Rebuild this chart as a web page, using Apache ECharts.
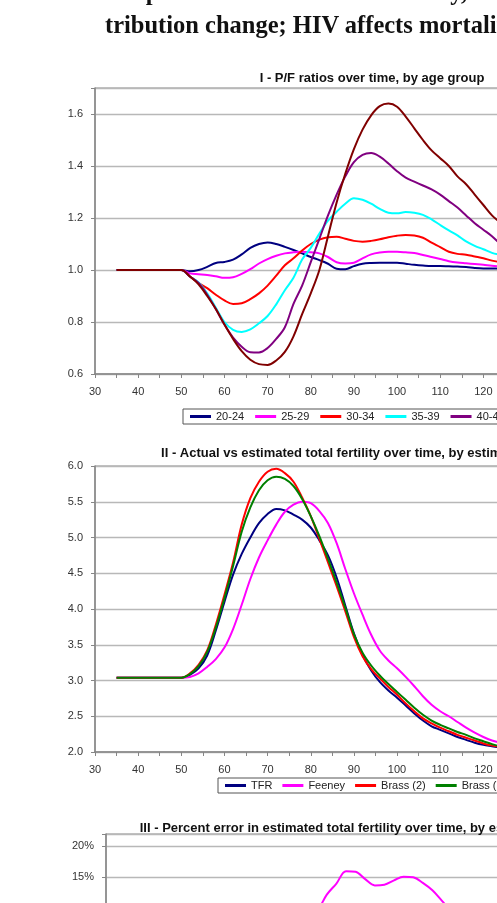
<!DOCTYPE html>
<html lang="en">
<head>
<meta charset="UTF-8">
<title>Scenario 4 output</title>
<style>
	html, body { margin: 0; padding: 0; background: #fff; overflow: hidden; width: 497px; height: 903px; }
	.hd { position: absolute; font-family: "Liberation Serif", "Times New Roman", serif; font-weight: bold;
		font-size: 24.5px; line-height: 26px; color: #111; white-space: nowrap; z-index: 2; }
	#chart { position: absolute; left: 0; top: 0; width: 744px; height: 1150px; }
</style>
</head>
<body>
<div class="hd" style="left:10px;top:-21px">6.</div>
<div class="hd" style="left:105px;top:-21px">Output from scenario 4- mortality, fertility and age dis-</div>
<div class="hd" style="left:105px;top:12px">tribution change; HIV affects mortality</div>
<div id="chart"></div>
<script src="https://cdn.jsdelivr.net/npm/echarts@6/dist/echarts.min.js"></script>
<script>
	// years shared by every chart
	var years = [35, 40, 45, 50,
		52, 54, 56, 58, 60, 62, 64, 66, 68, 70, 72, 74, 76, 78, 80, 82, 84, 86, 88, 90,
		92, 94, 96, 98, 100, 102, 104, 106, 108, 110, 112, 114, 116, 118, 120, 122, 124, 126, 128, 130];

	// I - P/F ratios by age group
	var ageGroups = ['20-24', '25-29', '30-34', '35-39', '40-44', '45-49'];
	var pf2024 = [1.0, 1.0, 1.0, 1.0,
		0.995, 1.0, 1.012, 1.027, 1.031, 1.04, 1.06, 1.085, 1.10, 1.106,
		1.10, 1.089, 1.077, 1.064, 1.05, 1.038, 1.024, 1.005, 1.003, 1.015,
		1.024, 1.027, 1.028, 1.028, 1.028, 1.024, 1.02, 1.017, 1.015, 1.015,
		1.014, 1.013, 1.012, 1.008, 1.006, 1.006, 1.005, 1.005, 1.004, 1.004];
	var pf2529 = [1.0, 1.0, 1.0, 1.0,
		0.987, 0.984, 0.981, 0.976, 0.97, 0.972, 0.985, 1.003, 1.025, 1.042,
		1.055, 1.064, 1.068, 1.07, 1.068, 1.064, 1.05, 1.03, 1.025, 1.028,
		1.045, 1.06, 1.067, 1.07, 1.07, 1.068, 1.065, 1.058, 1.05, 1.042,
		1.034, 1.029, 1.026, 1.023, 1.02, 1.016, 1.014, 1.012, 1.011, 1.01];
	var pf3034 = [1.0, 1.0, 1.0, 1.0,
		0.975, 0.95, 0.93, 0.905, 0.883, 0.869, 0.872, 0.888, 0.91, 0.94,
		0.978, 1.018, 1.045, 1.075, 1.10, 1.117, 1.126, 1.128, 1.12, 1.112,
		1.109, 1.112, 1.118, 1.126, 1.132, 1.135, 1.133, 1.124, 1.105, 1.088,
		1.07, 1.062, 1.059, 1.052, 1.045, 1.036, 1.03, 1.026, 1.022, 1.019];
	var pf3539 = [1.0, 1.0, 1.0, 1.0,
		0.975, 0.952, 0.91, 0.855, 0.80, 0.77, 0.762, 0.772, 0.795, 0.823,
		0.868, 0.922, 0.97, 1.04, 1.085, 1.14, 1.19, 1.224, 1.255, 1.276,
		1.27, 1.255, 1.235, 1.22, 1.218, 1.223, 1.22, 1.212, 1.195, 1.173,
		1.152, 1.133, 1.11, 1.093, 1.08, 1.066, 1.058, 1.05, 1.045, 1.04];
	var pf4044 = [1.0, 1.0, 1.0, 1.0,
		0.975, 0.95, 0.905, 0.85, 0.79, 0.74, 0.705, 0.684, 0.683, 0.70,
		0.735, 0.78, 0.87, 0.94, 1.03, 1.12, 1.21, 1.29, 1.36, 1.415,
		1.443, 1.45, 1.436, 1.41, 1.38, 1.355, 1.34, 1.325, 1.31, 1.29,
		1.265, 1.24, 1.21, 1.18, 1.155, 1.13, 1.10, 1.08, 1.065, 1.05];
	var pf4549 = [1.0, 1.0, 1.0, 1.0,
		0.975, 0.945, 0.90, 0.85, 0.79, 0.735, 0.688, 0.655, 0.638, 0.635,
		0.652, 0.685, 0.745, 0.83, 0.91, 1.0, 1.13, 1.26, 1.37, 1.465,
		1.54, 1.595, 1.63, 1.64, 1.628, 1.59, 1.545, 1.50, 1.46, 1.43,
		1.40, 1.36, 1.33, 1.29, 1.25, 1.21, 1.18, 1.14, 1.10, 1.07];

	// II - total fertility, actual and estimated
	var methods = ['TFR', 'Feeney', 'Brass (2)', 'Brass (3)'];
	var tfr = [3.04, 3.04, 3.04, 3.04,
		3.08, 3.17, 3.35, 3.70, 4.10, 4.48, 4.77, 5.0, 5.2, 5.33,
		5.40, 5.38, 5.32, 5.25, 5.14, 4.96, 4.75, 4.44, 4.05, 3.66,
		3.36, 3.14, 2.98, 2.86, 2.76, 2.65, 2.54, 2.44, 2.36, 2.31,
		2.26, 2.21, 2.17, 2.13, 2.10, 2.08, 2.06, 2.05, 2.04, 2.03];
	var feeney = [3.04, 3.04, 3.04, 3.04,
		3.05, 3.10, 3.19, 3.30, 3.46, 3.72, 4.06, 4.42, 4.72, 4.96,
		5.18, 5.36, 5.46, 5.50, 5.48, 5.37, 5.20, 4.92, 4.56, 4.22,
		3.92, 3.64, 3.42, 3.28, 3.17, 3.05, 2.92, 2.78, 2.66, 2.57,
		2.50, 2.42, 2.34, 2.27, 2.21, 2.16, 2.13, 2.11, 2.09, 2.07];
	var brass2 = [3.04, 3.04, 3.04, 3.04,
		3.10, 3.22, 3.42, 3.78, 4.20, 4.65, 5.18, 5.55, 5.78, 5.92,
		5.96, 5.90, 5.78, 5.56, 5.30, 4.98, 4.65, 4.32, 3.97, 3.61,
		3.34, 3.16, 3.03, 2.91, 2.80, 2.68, 2.57, 2.47, 2.40, 2.34,
		2.29, 2.24, 2.20, 2.16, 2.12, 2.09, 2.07, 2.06, 2.05, 2.04];
	var brass3 = [3.04, 3.04, 3.04, 3.04,
		3.09, 3.20, 3.40, 3.74, 4.15, 4.60, 5.08, 5.42, 5.66, 5.80,
		5.85, 5.82, 5.72, 5.54, 5.30, 5.02, 4.70, 4.37, 4.02, 3.65,
		3.39, 3.21, 3.07, 2.95, 2.84, 2.73, 2.62, 2.52, 2.44, 2.38,
		2.33, 2.28, 2.24, 2.19, 2.15, 2.11, 2.08, 2.06, 2.05, 2.04];

	// III - percent error of the estimates
	var errFeeney = [0, 0, 0, 0,
		-1, -2.5, -5, -10, -15, -17, -14, -11, -8.5, -6.5,
		-4, -0.5, 2.5, 4.5, 6.5, 8, 9.5, 12.2, 14, 16,
		15.9, 14.7, 13.7, 13.8, 14.5, 15.1, 15, 14.1, 12.9, 11.2,
		9.5, 8.5, 7.5, 6.5, 5.3, 4, 3.4, 3, 2.5, 2];
	var errBrass2 = [0, 0, 0, 0,
		0.5, 1.5, 2, 2.5, 3.5, 5, 8, 10, 10, 9.5,
		9.5, 9, 8.5, 6, 3, 0.5, -2, -4, -3, 0,
		0, 0.6, 1.5, 1.5, 1.2, 0.8, 0.8, 1.2, 1.3, 1.3,
		1.3, 1.3, 1.3, 1.3, 1, 0.5, 0.5, 0.5, 0.5, 0.5];
	var errBrass3 = [0, 0, 0, 0,
		0.3, 1, 1.5, 1.8, 2.5, 3.5, 6.5, 8.5, 8.8, 8.8,
		8.3, 8.2, 7.5, 5.5, 3, 1.2, -1, -3, -2, 1.4,
		1.8, 2.2, 3, 2.8, 2.5, 2.6, 2.8, 3.2, 3, 2.6,
		2.5, 2.4, 2.4, 2.3, 2.2, 1.8, 1.5, 1.2, 1, 1];

	var font = '"Liberation Sans", Arial, sans-serif';
	var axisGray = '#868686';

	function xAxis(gridIndex, min) {
		return {
			type: 'value', gridIndex: gridIndex, min: min, max: 150, interval: 10,
			axisLine: { onZero: false, lineStyle: { color: axisGray, width: 1.5 } },
			axisTick: { length: 4, lineStyle: { color: axisGray } },
			minorTick: { show: true, splitNumber: 2, length: 4, lineStyle: { color: axisGray } },
			splitLine: { show: false },
			axisLabel: { fontFamily: font, fontSize: 11, color: '#333', margin: 12 }
		};
	}

	function yAxis(gridIndex, min, max, interval, fmt) {
		return {
			type: 'value', gridIndex: gridIndex, min: min, max: max, interval: interval,
			axisLine: { show: true, onZero: false, lineStyle: { color: axisGray, width: 1.5 } },
			axisTick: { show: true, length: 4, lineStyle: { color: axisGray } },
			splitLine: { lineStyle: { color: '#b8b8b8', width: 1.3 } },
			axisLabel: {
				fontFamily: font, fontSize: 11, color: '#333', margin: 12,
				formatter: function (v) {
					// only label the real ticks, not the top of the range
					var k = (v - min) / interval;
					return Math.abs(k - Math.round(k)) < 1e-6 ? fmt(v) : '';
				}
			}
		};
	}

	function line(name, color, idx, ys) {
		return {
			name: name, type: 'line', xAxisIndex: idx, yAxisIndex: idx,
			data: years.map(function (x, i) { return [x, ys[i]]; }),
			symbol: 'none', smooth: 0.35,
			lineStyle: { color: color, width: 2 }, itemStyle: { color: color }
		};
	}

	function legend(names, left, top, gap) {
		return {
			data: names, left: left, top: top, orient: 'horizontal',
			icon: 'rect', itemWidth: 21, itemHeight: 3, itemGap: gap,
			padding: [2, 7, 2, 7], borderColor: '#555', borderWidth: 1,
			textStyle: { fontFamily: font, fontSize: 11, color: '#222' }
		};
	}

	function title(text, top) {
		return {
			text: text, left: 'center', top: top,
			textStyle: { fontFamily: font, fontSize: 13, fontWeight: 'bold', color: '#111' }
		};
	}

	var oneDec = function (v) { return v.toFixed(1); };
	var pct = function (v) { return Math.round(v) + '%'; };

	var myChart = echarts.init(document.getElementById('chart'));

	var option = {
		animation: false,
		backgroundColor: 'transparent',
		title: [
			title('I - P/F ratios over time, by age group', 67),
			title('II - Actual vs estimated total fertility over time, by estimation method', 442),
			title('III - Percent error in estimated total fertility over time, by estimation method', 817)
		],
		legend: [
			legend(ageGroups, 183, 409, 11),
			legend(methods, 218, 778, 10)
		],
		grid: [
			{ left: 95, top: 88, width: 517.8, height: 286, show: true, borderColor: axisGray, borderWidth: 1 },
			{ left: 95, top: 466, width: 517.8, height: 286, show: true, borderColor: axisGray, borderWidth: 1 },
			{ left: 106, top: 834, width: 528, height: 260, show: true, borderColor: axisGray, borderWidth: 1 }
		],
		xAxis: [xAxis(0, 30), xAxis(1, 30), xAxis(2, 40)],
		yAxis: [
			yAxis(0, 0.6, 1.7, 0.2, oneDec),
			yAxis(1, 2.0, 6.0, 0.5, oneDec),
			yAxis(2, -20, 22, 5, pct)
		],
		series: [
			line('20-24', '#000080', 0, pf2024),
			line('25-29', '#ff00ff', 0, pf2529),
			line('30-34', '#ff0000', 0, pf3034),
			line('35-39', '#00ffff', 0, pf3539),
			line('40-44', '#800080', 0, pf4044),
			line('45-49', '#800000', 0, pf4549),
			line('TFR', '#000080', 1, tfr),
			line('Feeney', '#ff00ff', 1, feeney),
			line('Brass (2)', '#ff0000', 1, brass2),
			line('Brass (3)', '#008000', 1, brass3),
			line('Feeney', '#ff00ff', 2, errFeeney),
			line('Brass (2)', '#ff0000', 2, errBrass2),
			line('Brass (3)', '#008000', 2, errBrass3)
		]
	};

	myChart.setOption(option);
</script>
</body>
</html>
